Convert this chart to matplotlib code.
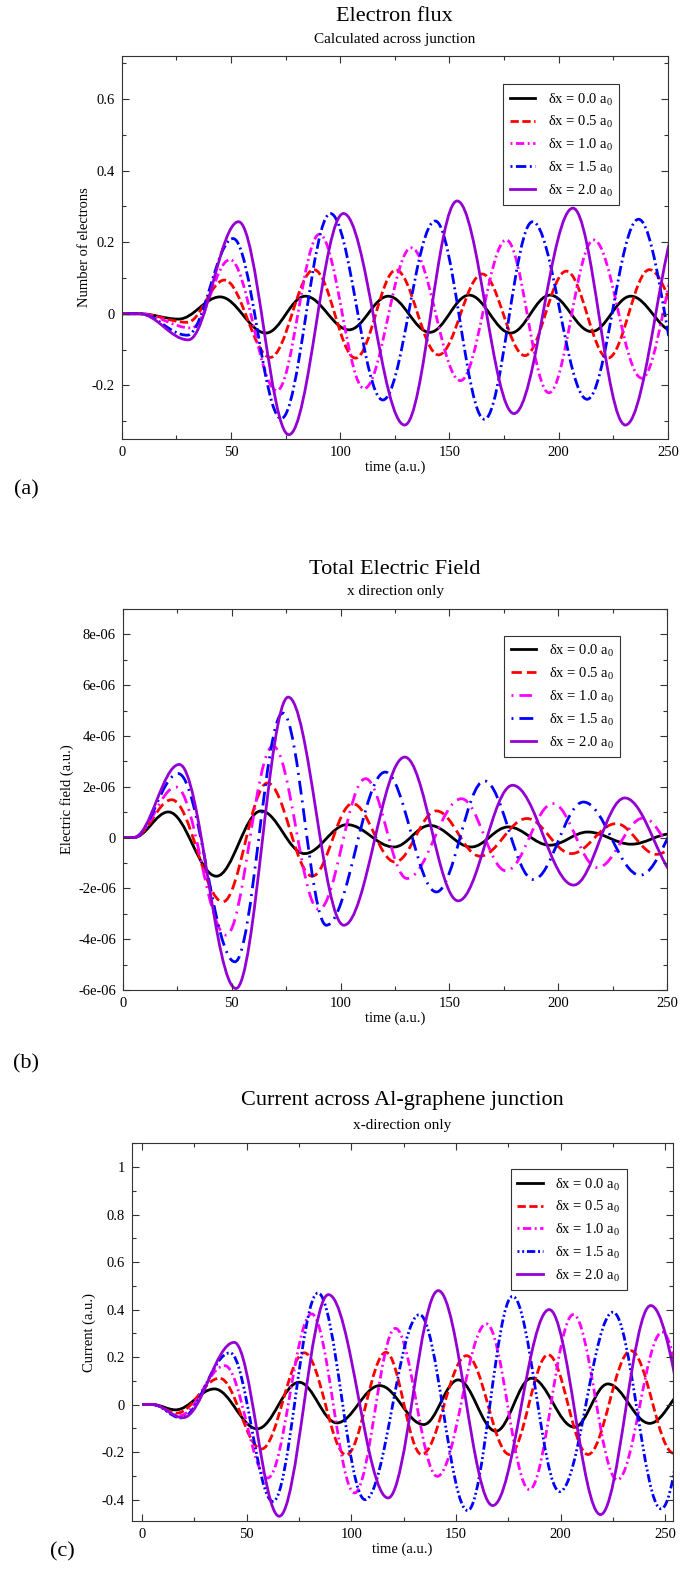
import numpy as np
import matplotlib
matplotlib.use("Agg")
import matplotlib.pyplot as plt
from matplotlib.path import Path
from matplotlib.patches import PathPatch
from matplotlib.ticker import MultipleLocator, FuncFormatter

plt.rcParams['font.family'] = ['Liberation Serif', 'DejaVu Serif']
plt.rcParams['mathtext.fontset'] = 'custom'
plt.rcParams['mathtext.rm'] = 'Liberation Serif'
plt.rcParams['axes.unicode_minus'] = False
plt.rcParams['lines.scale_dashes'] = False

LABELS = ['δx = 0.0 a$_\\mathregular{0}$', 'δx = 0.5 a$_\\mathregular{0}$',
          'δx = 1.0 a$_\\mathregular{0}$', 'δx = 1.5 a$_\\mathregular{0}$',
          'δx = 2.0 a$_\\mathregular{0}$']
COLORS = ['#000000', '#ff0000', '#ff00ff', '#0000ff', '#9400d3']

# turning points (time, value), one list per delta x
flux_t = [
    [0, 8, 26, 45, 66, 84, 104, 122, 141, 159, 178, 196, 215, 233, 253],
    [0, 8, 30, 47, 68, 88, 107, 125.5, 145, 165, 184.5, 203.5, 222.5, 241.5, 264],
    [0, 8, 32, 49.5, 71, 90.5, 111, 132.5, 155, 176, 195.5, 216, 238, 258],
    [0, 8, 30, 51, 73, 95.5, 119.5, 143.5, 166, 188, 213, 236.5, 261],
    [0, 8, 30.5, 53.5, 76.5, 101.5, 129.5, 153.5, 179.5, 206.5, 230.5, 258],
]
flux_v = [
    [0, 0, -0.015, 0.047, -0.054, 0.049, -0.045, 0.049, -0.052, 0.052, -0.054, 0.052, -0.050, 0.049, -0.05],
    [0, 0, -0.024, 0.094, -0.122, 0.123, -0.124, 0.122, -0.115, 0.111, -0.117, 0.119, -0.124, 0.123, -0.12],
    [0, 0, -0.040, 0.151, -0.215, 0.222, -0.209, 0.184, -0.187, 0.206, -0.221, 0.206, -0.180, 0.20],
    [0, 0, -0.060, 0.210, -0.293, 0.280, -0.241, 0.259, -0.295, 0.257, -0.239, 0.264, -0.28],
    [0, 0, -0.073, 0.257, -0.338, 0.280, -0.311, 0.315, -0.279, 0.295, -0.311, 0.30],
]

# electric field, in units of 1e-6
field_t = [
    [0, 5, 21, 43, 63.5, 83.5, 103, 124.5, 141, 160, 177, 196, 213.5, 233.5, 252],
    [0, 5, 22.5, 46, 66.5, 87, 105.5, 125, 144, 164, 185.5, 206, 226.5, 245, 265],
    [0, 5, 24.5, 47.5, 69, 90, 111.5, 130.5, 155.5, 176, 197.5, 218, 239, 258],
    [0, 5, 25.5, 51.5, 73.5, 93.5, 120.5, 144, 166, 188.5, 211.5, 237.5, 262],
    [0, 5, 26, 52, 76, 101.5, 129.5, 154, 179, 207, 230.5, 257],
]
field_v = [
    [0, 0, 1.01, -1.52, 1.05, -0.63, 0.51, -0.37, 0.48, -0.37, 0.42, -0.30, 0.22, -0.26, 0.15],
    [0, 0, 1.49, -2.53, 2.15, -1.52, 1.34, -0.96, 1.05, -0.73, 0.75, -0.63, 0.55, -0.66, 0.5],
    [0, 0, 1.99, -3.84, 3.60, -2.83, 2.32, -1.61, 1.53, -1.31, 1.34, -1.18, 0.77, -0.9],
    [0, 0, 2.52, -4.89, 4.90, -3.45, 2.58, -2.14, 2.23, -1.65, 1.40, -1.48, 1.3],
    [0, 0, 2.88, -5.94, 5.53, -3.45, 3.17, -2.49, 2.06, -1.87, 1.56, -1.7],
]

current_t = [
    [0, 5, 16, 34.5, 55, 75, 93, 113.5, 134.5, 151, 169, 186, 206.5, 222.5, 242.5, 262],
    [0, 5, 16.5, 37, 57, 77.5, 97.5, 116.5, 133.5, 155, 175.5, 194, 213, 233.5, 254],
    [0, 5, 18, 39.5, 60, 81, 101.5, 121, 141, 164.5, 185, 206, 227, 248.5, 268],
    [0, 5, 18.5, 42, 62.5, 84, 106.5, 132.5, 155.5, 177, 199.5, 225, 248, 270],
    [0, 5, 19.5, 44, 65.5, 89, 117.5, 141.5, 167.5, 194.5, 219, 243, 271],
]
current_v = [
    [0, 0, -0.022, 0.066, -0.102, 0.094, -0.077, 0.080, -0.084, 0.104, -0.112, 0.111, -0.095, 0.087, -0.079, 0.08],
    [0, 0, -0.036, 0.111, -0.187, 0.218, -0.212, 0.220, -0.210, 0.206, -0.210, 0.210, -0.210, 0.227, -0.205],
    [0, 0, -0.046, 0.164, -0.309, 0.382, -0.372, 0.321, -0.302, 0.340, -0.358, 0.379, -0.317, 0.305, -0.3],
    [0, 0, -0.056, 0.218, -0.408, 0.470, -0.400, 0.379, -0.446, 0.456, -0.366, 0.389, -0.439, 0.4],
    [0, 0, -0.055, 0.262, -0.470, 0.463, -0.393, 0.480, -0.425, 0.400, -0.463, 0.417, -0.4],
]

# dash patterns in points (grace-like)
STYLES_A = ['-', (0, (6, 2.5)), (0, (1.4, 2.5, 6, 2.5)), (0, (1.4, 2.5, 7.5, 2.5)), '-']
STYLES_B = ['-', (0, (7.5, 3.6)), (0, (1.4, 4.3, 9, 4.3)), (0, (1.4, 4.3, 10, 4.3)), '-']
STYLES_C = ['-', (0, (6, 2.5)), (0, (1.4, 2.5, 6, 2.5)), (0, (1.4, 2, 1.4, 2, 6, 2)), '-']

K = 1 - 2 / np.pi  # control point offset so each half swing looks like a cosine
W, H = 680, 1569
FRAME = '#333333'


def swing_path(ts, vs, scale):
    verts = [(ts[0], vs[0] * scale)]
    codes = [Path.MOVETO]
    for t0, v0, t1, v1 in zip(ts[:-1], vs[:-1], ts[1:], vs[1:]):
        d = (t1 - t0) * K
        verts += [(t0 + d, v0 * scale), (t1 - d, v1 * scale), (t1, v1 * scale)]
        codes += [Path.CURVE4] * 3
    return Path(verts, codes)


def fmt_plain(v, pos):
    return '0' if abs(v) < 1e-9 else f'{v:g}'


def fmt_exp(v, pos):
    return '0' if abs(v) < 1e-12 else f'{v:.0e}'


def panel(box, times, values, scale, styles, xlim, ylim, ystep, fmt, ylabel,
          ylabel_x, title, subtitle, title_y, leg_anchor):
    l, t, r, b = box
    ax = fig.add_axes([l / W, 1 - b / H, (r - l) / W, (b - t) / H])
    for ts, vs, c, ls in zip(times, values, COLORS, styles):
        ax.add_patch(PathPatch(swing_path(ts, vs, scale), fill=False, edgecolor=c,
                               lw=2.0, ls=ls, joinstyle='round'))
    handles = [ax.plot([], [], color=c, lw=2.0, ls=ls, label=lab)[0]
               for c, ls, lab in zip(COLORS, styles, LABELS)]
    ax.set_xlim(*xlim)
    ax.set_ylim(*ylim)
    ax.xaxis.set_major_locator(MultipleLocator(50))
    ax.xaxis.set_minor_locator(MultipleLocator(25))
    ax.yaxis.set_major_locator(MultipleLocator(ystep))
    ax.yaxis.set_minor_locator(MultipleLocator(ystep / 2))
    ax.yaxis.set_major_formatter(FuncFormatter(fmt))
    ax.tick_params(which='both', direction='in', top=True, right=True,
                   color=FRAME, width=0.8, labelsize=10.5, pad=5)
    ax.tick_params(which='major', length=5)
    ax.tick_params(which='minor', length=3)
    for s in ax.spines.values():
        s.set_color(FRAME)
        s.set_linewidth(0.8)
    ax.text(0.5, -(28) / (b - t), 'time (a.u.)', transform=ax.transAxes,
            ha='center', va='center', fontsize=10.5)
    ax.text((ylabel_x - l) / (r - l), 0.5, ylabel, transform=ax.transAxes,
            rotation=90, ha='center', va='center', fontsize=10.5)
    cx = (l + r) / 2 / W
    fig.text(cx, 1 - title_y[0] / H, title, ha='center', va='center', fontsize=16)
    fig.text(cx, 1 - title_y[1] / H, subtitle, ha='center', va='center', fontsize=11)
    leg = ax.legend(handles=handles, loc='upper left',
                    bbox_to_anchor=((leg_anchor[0] - l) / (r - l), 1 - (leg_anchor[1] - t) / (b - t)),
                    borderaxespad=0, fancybox=False, framealpha=1, edgecolor=FRAME,
                    fontsize=10.5, handlelength=1.75, handletextpad=0.85,
                    labelspacing=0.42, borderpad=0.45)
    leg.get_frame().set_linewidth(0.8)
    return ax


fig = plt.figure(figsize=(W / 100, H / 100), dpi=100)

panel((121.7, 56, 668, 439), flux_t, flux_v, 1.0, STYLES_A, (0, 250), (-0.35, 0.72), 0.2,
      fmt_plain, 'Number of electrons', 85, 'Electron flux', 'Calculated across junction',
      (16.5, 39), (503.3, 84.3))
panel((122.7, 609, 667.3, 990), field_t, field_v, 1e-6, STYLES_B, (0, 250), (-6e-6, 9e-6), 2e-6,
      fmt_exp, 'Electric field (a.u.)', 67, 'Total Electric Field', 'x direction only',
      (569, 592), (504.3, 636))
panel((131.7, 1143.3, 672.7, 1521), current_t, current_v, 1.0, STYLES_C, (-5, 253.5), (-0.49, 1.1), 0.2,
      fmt_plain, 'Current (a.u.)', 89, 'Current across Al-graphene junction', 'x-direction only',
      (1100, 1125), (510.7, 1169.3))

fig.text(26 / W, 1 - 490 / H, '(a)', ha='center', va='center', fontsize=16)
fig.text(26 / W, 1 - 1064 / H, '(b)', ha='center', va='center', fontsize=16)
fig.text(62 / W, 1 - 1552 / H, '(c)', ha='center', va='center', fontsize=16)

fig.savefig('out.png', dpi=100)
